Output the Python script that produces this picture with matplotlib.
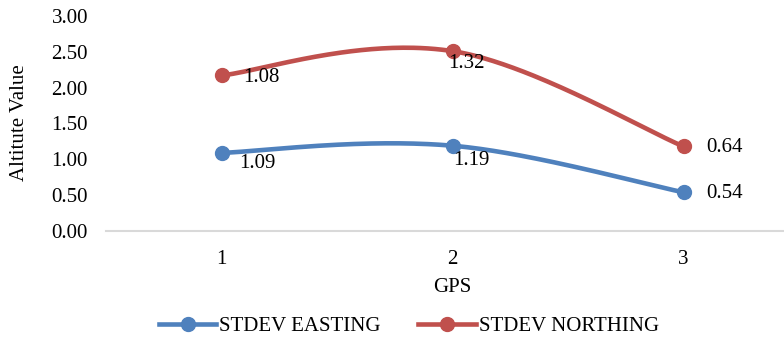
import numpy as np
import matplotlib
matplotlib.use("Agg")
import matplotlib.pyplot as plt
from matplotlib.lines import Line2D

plt.rcParams["font.family"] = ["Liberation Serif", "DejaVu Serif"]

categories = ["1", "2", "3"]
easting = [1.09, 1.19, 0.54]
northing = [1.08, 1.32, 0.64]
series_names = ["STDEV EASTING", "STDEV NORTHING"]
colors = ["#4F81BD", "#C0504D"]

# label offsets in pixels (dx, dy) relative to each marker
label_offsets = [
    [(18, -11), (1, -15), (23, -1)],
    [(22, -2), (-4, -12), (23, -1)],
]

FS = 15


def smooth(xs, ys, n=80):
    """Piecewise cubic Bezier through the points (spreadsheet-style smoothing)."""
    pts = np.column_stack([xs, ys]).astype(float)
    out = []
    m = len(pts)
    for i in range(m - 1):
        p0 = pts[max(i - 1, 0)]
        p1 = pts[i]
        p2 = pts[i + 1]
        p3 = pts[min(i + 2, m - 1)]
        c1 = p1 + (p2 - p0) / 6.0
        c2 = p2 - (p3 - p1) * (0.2 if i == 0 else 1 / 6.0)
        t = np.linspace(0, 1, n)[:, None]
        seg = ((1 - t) ** 3) * p1 + 3 * ((1 - t) ** 2) * t * c1 \
            + 3 * (1 - t) * t ** 2 * c2 + t ** 3 * p2
        out.append(seg if i == 0 else seg[1:])
    seg = np.vstack(out)
    return seg[:, 0], seg[:, 1]


fig = plt.figure(figsize=(7.84, 3.41), dpi=100)
ax = fig.add_axes([106 / 784, 110 / 341, 693 / 784, 215 / 341])

x = np.arange(1, len(categories) + 1)
# stacked line chart: second series sits on top of the first
stack = [np.array(easting), np.array(easting) + np.array(northing)]
values = [easting, northing]

for s in range(2):
    sx, sy = smooth(x, stack[s])
    ax.plot(sx, sy, color=colors[s], lw=3.3, solid_capstyle="round", zorder=3)
    ax.plot(x, stack[s], "o", color=colors[s], ms=10, zorder=4)
    for i in range(len(x)):
        dx, dy = label_offsets[s][i]
        ax.annotate(f"{values[s][i]:.2f}", (x[i], stack[s][i]),
                    xytext=(dx, dy), textcoords="offset pixels",
                    ha="left", va="center", fontsize=FS, color="#000000",
                    zorder=5)

ax.set_xlim(0.5, 3.5)
ax.set_ylim(0, 3)
ax.set_xticks(x)
ax.set_xticklabels(categories)
ax.set_yticks(np.arange(0, 3.01, 0.5))
ax.set_yticklabels([f"{v:.2f}" for v in np.arange(0, 3.01, 0.5)])
ax.tick_params(length=0, labelsize=FS, colors="#000000")
ax.tick_params(axis="x", pad=14)
ax.tick_params(axis="y", pad=13)
for side in ["top", "right", "left"]:
    ax.spines[side].set_visible(False)
ax.spines["bottom"].set_color("#D9D9D9")
ax.spines["bottom"].set_linewidth(1.5)
ax.patch.set_alpha(0)

fig.text(452 / 784, 1 - 287 / 341, "GPS", ha="center", va="center", fontsize=FS)
fig.text(20 / 784, 1 - 123 / 341, "Altitute Value", ha="center", va="center",
         rotation=90, fontsize=FS)

handles = [Line2D([0], [0], color=c, lw=3.3, marker="o", ms=10) for c in colors]
fig.legend(handles, series_names, loc="center", bbox_to_anchor=(409 / 784, 1 - 326 / 341),
           ncol=2, frameon=False, fontsize=FS, handlelength=2.75,
           columnspacing=1.8, handletextpad=0.15)

fig.savefig("out.png", dpi=100)
